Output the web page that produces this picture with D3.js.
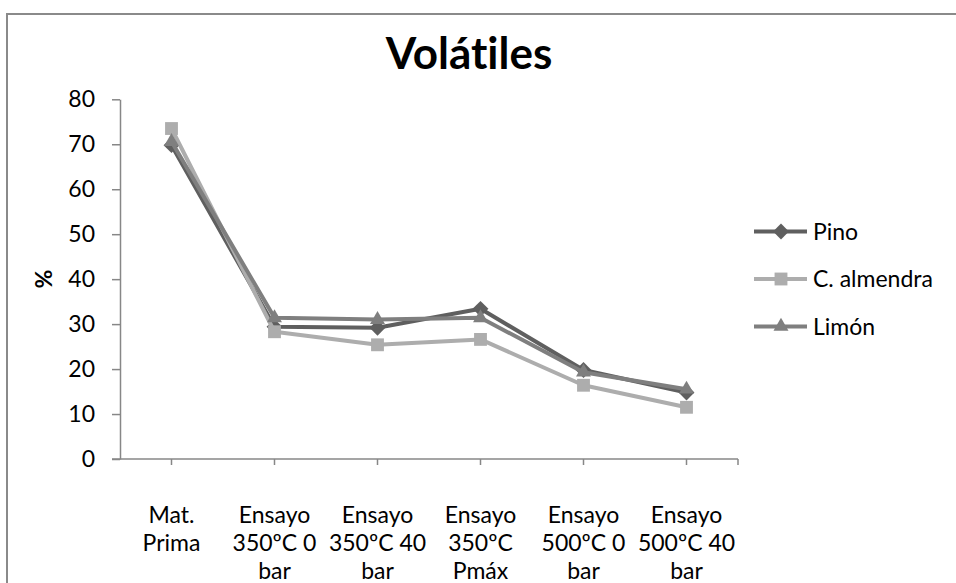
<!DOCTYPE html>
<html>
<head>
<meta charset="utf-8">
<script src="https://cdn.jsdelivr.net/npm/d3@7"></script>
<style>
  body { margin: 0; background: #fff; }
  svg { display: block; font-family: Lato, "Open Sans", sans-serif; font-variant-ligatures: none; }
</style>
</head>
<body>
<div id="chart"></div>
<script>
// categories (multi-line labels)
const categories = [
  ['Mat.', 'Prima'],
  ['Ensayo', '350ºC 0', 'bar'],
  ['Ensayo', '350ºC 40', 'bar'],
  ['Ensayo', '350ºC', 'Pmáx'],
  ['Ensayo', '500ºC 0', 'bar'],
  ['Ensayo', '500ºC 40', 'bar']
]
const seriesNames = ['Pino', 'C. almendra', 'Limón']
const pino = [69.8, 29.4, 29.2, 33.4, 19.8, 14.8]
const almendra = [73.5, 28.3, 25.4, 26.6, 16.4, 11.5]
const limon = [70.6, 31.4, 31.0, 31.4, 19.3, 15.5]
const yTicks = [0, 10, 20, 30, 40, 50, 60, 70, 80]

const W = 956, H = 583
const m = { l: 120, r: 218, t: 99.3, b: 124 } // plot area margins
const colors = ['#5f5f5f', '#adadad', '#7f7f7f']
const symbols = [d3.symbolDiamond2, d3.symbolSquare2, d3.symbolTriangle2]
const axisColor = '#878787'
const fs = 23

const svg = d3.select('#chart').append('svg')
  .attr('width', W).attr('height', H)
  .attr('viewBox', [0, 0, W, H])

// outer chart frame (cut by the picture edge on right / bottom)
svg.append('rect')
  .attr('x', 7).attr('y', 14)
  .attr('width', W + 20).attr('height', H + 20)
  .attr('fill', 'none').attr('stroke', '#8a8a8a').attr('stroke-width', 2)

const x = d3.scalePoint()
  .domain(d3.range(categories.length))
  .range([m.l, W - m.r])
  .padding(0.5)
const y = d3.scaleLinear().domain([0, 80]).range([H - m.b, m.t])

// y axis
const yAxis = svg.append('g')
  .attr('transform', `translate(${m.l},0)`)
  .call(d3.axisLeft(y).tickValues(yTicks).tickSize(8).tickPadding(17).tickSizeOuter(0))
yAxis.select('.domain').attr('stroke', axisColor).attr('stroke-width', 1.5)
yAxis.selectAll('.tick line').attr('stroke', axisColor).attr('stroke-width', 1.5)
yAxis.selectAll('.tick text')
  .attr('font-size', fs).attr('fill', '#000').attr('font-family', 'Lato')

// x axis
const xAxisG = svg.append('g').attr('transform', `translate(0,${y(0)})`)
xAxisG.append('line')
  .attr('x1', m.l - 8).attr('x2', W - m.r)
  .attr('stroke', axisColor).attr('stroke-width', 1.5)
const xTickPos = x.domain().map(x).concat([W - m.r])
xAxisG.selectAll('.xt').data(xTickPos).enter().append('line')
  .attr('class', 'xt')
  .attr('x1', d => d).attr('x2', d => d)
  .attr('y1', 0).attr('y2', 6)
  .attr('stroke', axisColor).attr('stroke-width', 1.5)

const xLabels = xAxisG.selectAll('.xl').data(categories).enter().append('text')
  .attr('class', 'xl')
  .attr('text-anchor', 'middle')
  .attr('font-size', fs)
  .attr('fill', '#000')
xLabels.each(function(lines, i) {
  const t = d3.select(this)
  lines.forEach((ln, k) => {
    t.append('tspan')
      .attr('x', x(i))
      .attr('y', 64 + k * 28)
      .text(ln)
  })
})

// y axis title
svg.append('text')
  .attr('transform', `translate(52,${y(40)}) rotate(-90)`)
  .attr('text-anchor', 'middle')
  .attr('font-size', fs).attr('font-weight', 'bold')
  .text('%')

// title
svg.append('text')
  .attr('x', 469).attr('y', 69)
  .attr('text-anchor', 'middle')
  .attr('font-size', 44).attr('font-weight', 'bold')
  .text('Volátiles')

// series
const allSeries = [pino, almendra, limon]
const line = d3.line().x((d, i) => x(i)).y(d => y(d))

allSeries.forEach((vals, s) => {
  const g = svg.append('g')
  g.append('path')
    .datum(vals)
    .attr('d', line)
    .attr('fill', 'none')
    .attr('stroke', colors[s])
    .attr('stroke-width', 4)
    .attr('stroke-linejoin', 'round')
  g.selectAll('path.mk').data(vals).enter().append('path')
    .attr('class', 'mk')
    .attr('transform', (d, i) => `translate(${x(i)},${y(d)})`)
    .attr('d', d3.symbol().type(symbols[s]).size(s === 1 ? 210 : 160))
    .attr('fill', colors[s])
})

// legend
const leg = svg.append('g').attr('transform', 'translate(754,231.5)')
seriesNames.forEach((name, s) => {
  const row = leg.append('g').attr('transform', `translate(0,${s * 47.5})`)
  row.append('line')
    .attr('x1', 0).attr('x2', 53)
    .attr('stroke', colors[s]).attr('stroke-width', 4)
  row.append('path')
    .attr('transform', 'translate(27,0)')
    .attr('d', d3.symbol().type(symbols[s]).size(s === 1 ? 210 : 160))
    .attr('fill', colors[s])
  row.append('text')
    .attr('x', 59).attr('y', 0).attr('dy', '0.35em')
    .attr('font-size', fs)
    .text(name)
})
</script>
</body>
</html>
